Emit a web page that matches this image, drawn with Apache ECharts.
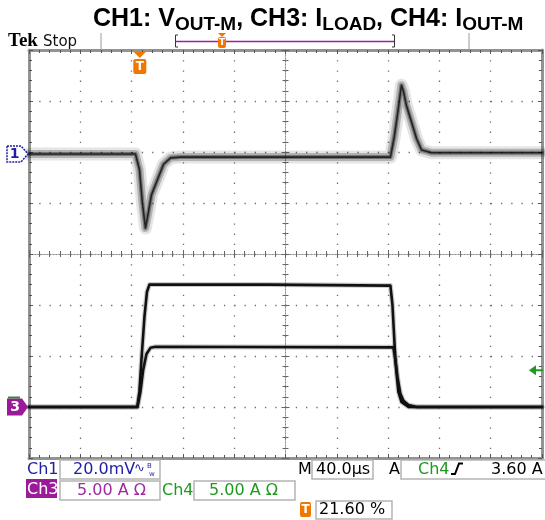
<!DOCTYPE html>
<html><head><meta charset="utf-8">
<script src="https://cdn.jsdelivr.net/npm/echarts@6/dist/echarts.min.js"></script>
<style>html,body{margin:0;padding:0;background:#fff}#c{width:545px;height:520px}</style>
</head><body><div id="c"></div>
<script>
// ---- scope settings ----
const timePerDivUs = 40;       // M 40.0us
const triggerPct = 21.6;       // trigger position %
const ch1mVPerDiv = 20;        // Ch1 20.0mV
const ch1OffsetDiv = 1.96;     // ground marker "1" (divisions above centre)
const ampPerDiv = 5;           // Ch3 / Ch4 5.00 A
const curOffsetDiv = -3;       // ground marker "3"
const trigLevelA = 3.6;        // Ch4 trigger level

// ---- CH1: VOUT-M (mV, time relative to trigger in us) ----
const ch1TimeUs = [-86.4, -40, -3.4, -1.9, -0.3, 2.0, 4.4, 5.9, 9.1, 13.8, 18.5, 24, 32, 100, 195.4, 198.5, 201.6, 204, 205.6, 207.9, 211.9, 215.8, 219.7, 227.5, 313.6];
const ch1mV     = [0, 0, 0, 0, -6, -19, -29, -25, -16, -10, -4, -1.5, -1.2, -1.2, -1.2, 7, 18, 27, 24.5, 19, 12.5, 6, 1.6, 0.5, 0.5];

// ---- CH3: ILOAD (A) ----
const ch3TimeUs = [-86.4, -1.9, -0.3, 1.25, 3.6, 5.6, 7.5, 100, 195.4, 197, 199.3, 201.6, 204, 209.5, 313.6];
const ch3A      = [0, 0, 1.5, 4.6, 8.8, 11.3, 12.0, 12.0, 11.9, 10, 4.6, 1.5, 0.5, 0, 0];

// ---- CH4: IOUT-M (A) ----
const ch4TimeUs = [-86.4, -1.9, 0.5, 2.6, 5.2, 8.3, 12.2, 197.7, 199.3, 200.8, 203.2, 205.6, 209.5, 215.8, 313.6];
const ch4A      = [0, 0, 1.5, 3.6, 5.2, 5.8, 5.9, 5.85, 4.6, 3.0, 1.3, 0.6, 0.2, 0, 0];

const offX = triggerPct / 100 * 10 * timePerDivUs;
const toXY = (ts, vs) => ts.map((t, i) => [t + offX, vs[i]]);

const chart = echarts.init(document.getElementById('c'), null, {renderer: 'canvas'});
const G = {left: 29, top: 50, width: 513, height: 408};

function borderX(pos) {
  return {type: 'value', gridIndex: 0, position: pos, min: 0, max: 10 * timePerDivUs, interval: timePerDivUs,
    axisLine: {show: true, onZero: false, lineStyle: {color: '#939393', width: 3}},
    axisTick: {show: true, inside: true, length: 4, lineStyle: {color: '#555', width: 1}},
    minorTick: {show: true, splitNumber: 5, length: 3, lineStyle: {color: '#555', width: 1}},
    axisLabel: {show: false},
    splitLine: {show: pos === 'bottom', lineStyle: {color: '#6e6e6e', width: 1.3, type: [1.3, 8.9]}}};
}
const yCurMin = -(4 + curOffsetDiv) * ampPerDiv;   // -5
const yCurMax = (4 - curOffsetDiv) * ampPerDiv;    // 35
function borderY(pos) {
  return {type: 'value', gridIndex: 0, position: pos, min: yCurMin, max: yCurMax, interval: ampPerDiv,
    axisLine: {show: true, onZero: false, lineStyle: {color: '#939393', width: 3}},
    axisTick: {show: true, inside: true, length: 4, lineStyle: {color: '#555', width: 1}},
    minorTick: {show: true, splitNumber: 5, length: 3, lineStyle: {color: '#555', width: 1}},
    axisLabel: {show: false},
    splitLine: {show: pos === 'left', lineStyle: {color: '#6e6e6e', width: 1.3, type: [1.3, 8.96]}}};
}

function centreAxis(kind, pos, onIdx) {
  const a = {type: 'value', gridIndex: 1, position: pos, interval: 1,
    axisLine: {show: true, onZero: true, onZeroAxisIndex: onIdx, lineStyle: {color: '#8a8a8a', width: 1, type: [1, 2]}},
    axisTick: {show: true, inside: true, length: 4, lineStyle: {color: '#666', width: 1}},
    minorTick: {show: true, splitNumber: 5, length: 3, lineStyle: {color: '#666', width: 1}},
    axisLabel: {show: false}, splitLine: {show: false}};
  if (kind === 'x') { a.min = -5; a.max = 5; } else { a.min = -4; a.max = 4; }
  return a;
}

function traceSeries(data, yIdx, layers) {
  return layers.map(l => ({type: 'line', xAxisIndex: 0, yAxisIndex: yIdx, data: data, showSymbol: false, symbol: 'none',
    silent: true, animation: false, z: 3,
    lineStyle: {color: l[1], width: l[0], cap: 'round', join: 'round'}}));
}
const ch1Layers = [[13, 'rgba(0,0,0,0.10)'], [8, 'rgba(0,0,0,0.22)'], [4, 'rgba(0,0,0,0.35)'], [1.6, 'rgba(0,0,0,0.7)']];
const curLayers = [[5, 'rgba(0,0,0,0.2)'], [2.6, '#111']];

chart.setOption({
  animation: false,
  backgroundColor: '#fff',
  title: {left: 93, top: 7, padding: 0,
    text: '{m|CH1: V}{s|OUT-M}{m|, CH3: I}{s|LOAD}{m|, CH4: I}{s|OUT-M}',
    textStyle: {rich: {
      m: {fontFamily: 'Liberation Sans', fontWeight: 'bold', fontSize: 25, lineHeight: 25, verticalAlign: 'top', color: '#000'},
      s: {fontFamily: 'Liberation Sans', fontWeight: 'bold', fontSize: 19, lineHeight: 19, verticalAlign: 'top', padding: [8, 0, 0, 0], color: '#000'}
    }}},
  grid: [Object.assign({}, G), Object.assign({}, G)],
  xAxis: [borderX('bottom'), borderX('top'), centreAxis('x', 'bottom', 3), centreAxis('x', 'top', 3)],
  yAxis: [borderY('left'), borderY('right'),
    {type: 'value', gridIndex: 0, show: false, min: -(4 + ch1OffsetDiv) * ch1mVPerDiv, max: (4 - ch1OffsetDiv) * ch1mVPerDiv, splitLine: {show: false}},
    centreAxis('y', 'left', 2), centreAxis('y', 'right', 2)],
  series: [].concat(
    traceSeries(toXY(ch1TimeUs, ch1mV), 2, ch1Layers),
    traceSeries(toXY(ch3TimeUs, ch3A), 0, curLayers),
    traceSeries(toXY(ch4TimeUs, ch4A), 0, curLayers)
  )
});

// ---- decorations ----
const BLUE = '#1e1ea6', PURPLE = '#9a1a9a', GREEN = '#1f9a1f', ORANGE = '#f07800';
const SANS = "'DejaVu Sans', sans-serif";
function txt(x, base, s, size, fill, opt) {
  opt = opt || {};
  const fam = opt.family || SANS, w = opt.weight || 'normal';
  return {type: 'text', silent: true, z: 20, style: {x: x, y: base - 0.3 * size, text: s,
    font: w + ' ' + size + 'px ' + fam, fill: fill, verticalAlign: 'middle', textAlign: opt.align || 'left'}};
}
function box(x, y, w, h) {
  return {type: 'rect', silent: true, z: 10, shape: {x: x, y: y, width: w, height: h},
    style: {fill: '#fff', stroke: '#b4b4b4', lineWidth: 1.5}};
}
function tIcon(x, y, w, h, size) {
  return [{type: 'rect', silent: true, z: 20, shape: {x: x, y: y, width: w, height: h, r: 2}, style: {fill: ORANGE}},
    {type: 'text', silent: true, z: 21, style: {x: x + w / 2, y: y + h / 2 + 0.5, text: 'T', font: 'bold ' + size + 'px ' + SANS,
      fill: '#fff', textAlign: 'center', verticalAlign: 'middle'}}];
}

const p1 = chart.convertToPixel({xAxisIndex: 0, yAxisIndex: 2}, [0, 0]);
const p3 = chart.convertToPixel({xAxisIndex: 0, yAxisIndex: 0}, [0, 0]);
const pT = chart.convertToPixel({xAxisIndex: 0, yAxisIndex: 0}, [offX, trigLevelA]);
const y1 = p1[1], y3 = p3[1], yTr = pT[1], xTr = pT[0];

const els = [];
// Tek Stop
els.push(txt(8, 47, 'Tek', 19, '#000', {family: "'Liberation Serif', serif", weight: 'bold'}));
els.push(txt(43, 47, 'Stop', 15, '#111'));
// record bar
els.push({type: 'line', silent: true, shape: {x1: 101, y1: 33, x2: 101, y2: 49}, style: {stroke: '#9a9a9a', lineWidth: 1}});
els.push({type: 'line', silent: true, shape: {x1: 469, y1: 33, x2: 469, y2: 49}, style: {stroke: '#9a9a9a', lineWidth: 1}});
els.push({type: 'line', silent: true, shape: {x1: 176, y1: 41.5, x2: 394, y2: 41.5}, style: {stroke: '#a020a0', lineWidth: 1.5}});
els.push({type: 'polyline', silent: true, shape: {points: [[178, 35], [175.5, 35], [175.5, 47], [178, 47]]}, style: {stroke: '#333', lineWidth: 1, fill: null}});
els.push({type: 'polyline', silent: true, shape: {points: [[392, 35], [394.5, 35], [394.5, 47], [392, 47]]}, style: {stroke: '#333', lineWidth: 1, fill: null}});
els.push({type: 'polygon', silent: true, z: 20, shape: {points: [[218, 33], [226, 33], [222, 37]]}, style: {fill: ORANGE}});
els.push.apply(els, tIcon(218, 37, 8, 11, 9));
// trigger position marker
els.push({type: 'polygon', silent: true, z: 20, shape: {points: [[xTr - 6, 52], [xTr + 6, 52], [xTr, 58]]}, style: {fill: ORANGE}});
els.push.apply(els, tIcon(xTr - 6.5, 59, 13, 15, 12));
// channel ground markers
els.push({type: 'polygon', silent: true, z: 20, shape: {points: [[7, y1 - 8], [21, y1 - 8], [28, y1], [21, y1 + 8], [7, y1 + 8]]},
  style: {fill: '#fff', stroke: BLUE, lineWidth: 1.5, lineDash: [2, 1]}});
els.push({type: 'text', silent: true, z: 21, style: {x: 14.5, y: y1 + 0.5, text: '1', font: 'bold 14px ' + SANS, fill: BLUE, textAlign: 'center', verticalAlign: 'middle'}});
els.push({type: 'line', silent: true, z: 19, shape: {x1: 8, y1: y3 - 9.5, x2: 20, y2: y3 - 9.5}, style: {stroke: GREEN, lineWidth: 2}});
els.push({type: 'polygon', silent: true, z: 20, shape: {points: [[7, y3 - 8.5], [22, y3 - 8.5], [28, y3], [22, y3 + 8.5], [7, y3 + 8.5]]}, style: {fill: PURPLE}});
els.push({type: 'text', silent: true, z: 21, style: {x: 15, y: y3 + 0.5, text: '3', font: 'bold 14px ' + SANS, fill: '#fff', textAlign: 'center', verticalAlign: 'middle'}});
// trigger level arrow
els.push({type: 'polygon', silent: true, z: 20, shape: {points: [[529, yTr], [536, yTr - 5], [536, yTr + 5]]}, style: {fill: GREEN}});
els.push({type: 'line', silent: true, z: 20, shape: {x1: 535, y1: yTr, x2: 543, y2: yTr}, style: {stroke: GREEN, lineWidth: 2}});

// status row 1
els.push(txt(27, 475, 'Ch1', 16, BLUE));
els.push(box(60, 460, 100, 19));
els.push(txt(73, 475, '20.0mV', 16, BLUE));
els.push(txt(134, 473, '\u223F', 13, BLUE));
els.push(txt(147, 468, 'B', 7, BLUE));
els.push(txt(149, 476, 'w', 7, BLUE));
els.push(txt(298, 475, 'M', 16, '#000'));
els.push(box(312, 460, 61, 19));
els.push(txt(316, 475, '40.0\u00B5s', 16, '#000'));
els.push(txt(389, 475, 'A', 16, '#000'));
els.push(box(401, 460, 146, 19));
els.push(txt(418, 475, 'Ch4', 16, GREEN));
els.push({type: 'polyline', silent: true, z: 20, shape: {points: [[451, 474], [455, 474], [459, 463.5], [463, 463.5]]}, style: {stroke: '#000', lineWidth: 2, fill: null}});
els.push(txt(491, 475, '3.60 A', 16, '#000'));
// status row 2
els.push({type: 'rect', silent: true, z: 10, shape: {x: 26, y: 479, width: 31, height: 19}, style: {fill: PURPLE}});
els.push(txt(27, 495, 'Ch3', 16, '#fff'));
els.push(box(60, 481, 100, 19));
els.push(txt(77, 496, '5.00 A \u03A9', 16, '#a02aa0'));
els.push(txt(162, 496, 'Ch4', 16, GREEN));
els.push(box(194, 481, 101, 19));
els.push(txt(209, 496, '5.00 A \u03A9', 16, GREEN));
// status row 3
els.push.apply(els, tIcon(300, 502, 11, 15, 12));
els.push(box(316, 501, 76, 18));
els.push(txt(319, 515, '21.60 %', 16, '#000'));

chart.setOption({graphic: {elements: els}});
</script>
</body></html>
